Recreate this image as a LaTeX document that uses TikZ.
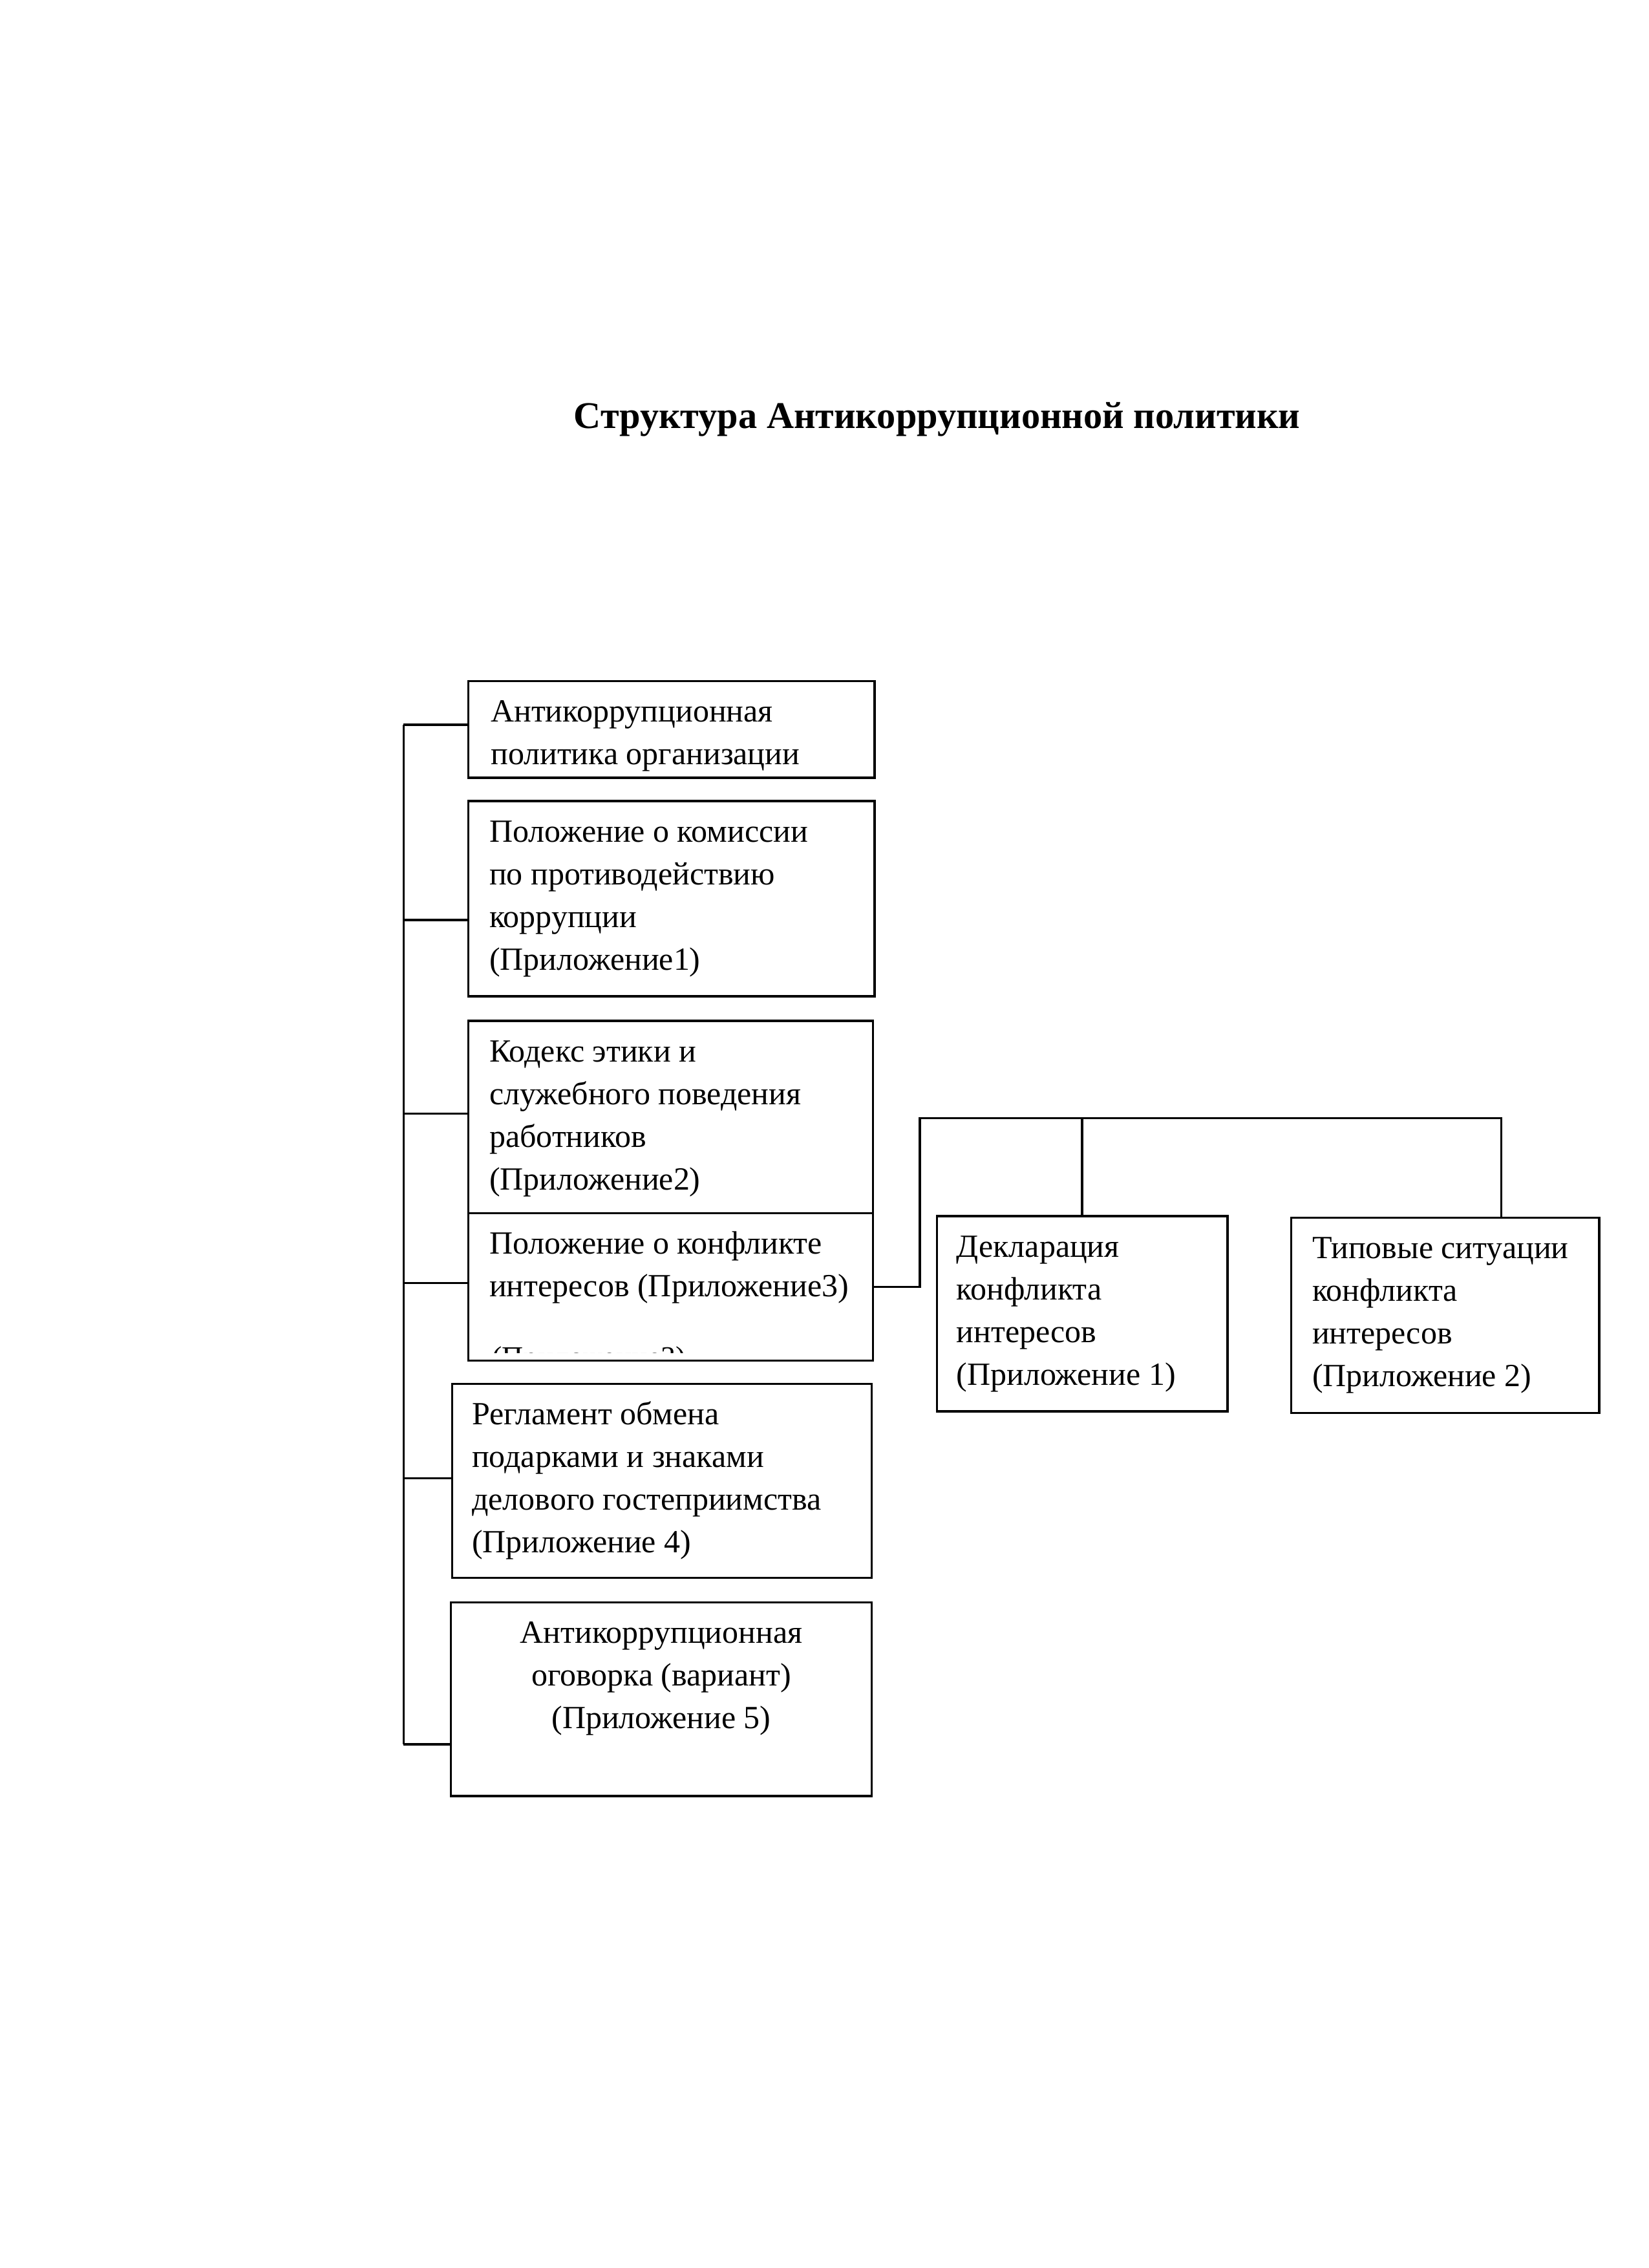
\documentclass[tikz,border=0pt]{standalone}
\usepackage{fontspec}
\setmainfont{Liberation Serif}
\usetikzlibrary{positioning,calc}

\newcommand{\px}{0.537pt}
\newcommand{\docfont}{\fontsize{12}{15.85}\selectfont}
\tikzset{
  docbox/.style={draw, line width=0.8pt, rectangle, anchor=north west, inner sep=0pt},
  doctext/.style={anchor=north west, inner sep=0pt, align=left, font=\docfont},
  link/.style={line width=0.8pt}
}

\begin{document}
\begin{tikzpicture}[x=0.537pt, y=-0.537pt]
      \useasboundingbox (0,0) rectangle (1140,1568);

      % Title
      \node[font=\bfseries\fontsize{14}{17}\selectfont] (title) at (648,290) {Структура Антикоррупционной политики};

      % Left column of documents
      \node[docbox, minimum width=281*\px, minimum height=67*\px] (b1) at (323,470) {};
      \node[doctext] (t1) at ($(b1.north west)+(16,8)$) {\strut Антикоррупционная\\политика организации};

      \node[docbox, minimum width=281*\px, minimum height=135*\px] (b2) at (323,553) {};
      \node[doctext] (t2) at ($(b2.north west)+(15,8)$) {\strut Положение о комиссии\\по противодействию\\коррупции\\(Приложение1)};

      \node[docbox, minimum width=280*\px, minimum height=133*\px] (b3) at (323,705) {};
      \node[doctext] (t3) at ($(b3.north west)+(15,8)$) {\strut Кодекс этики и\\служебного поведения\\работников\\(Приложение2)};

      \node[docbox, minimum width=280*\px, minimum height=102*\px] (b4) at (323,838) {};
      \node[doctext] (t4) at ($(b4.north west)+(15,8)$) {\strut Положение о конфликте\\интересов (Приложение3)};
      \begin{scope}
        \clip (b4.north west) rectangle ($(b4.south east)+(0,-6)$);
        \node[doctext, font=\fontsize{11}{13}\selectfont] (t4x) at ($(b4.north west)+(17,92.5)$) {(Приложение3)};
      \end{scope}

      \node[docbox, minimum width=290*\px, minimum height=134*\px] (b5) at (312,956) {};
      \node[doctext] (t5) at ($(b5.north west)+(14,8)$) {\strut Регламент обмена\\подарками и знаками\\делового гостеприимства\\(Приложение 4)};

      \node[docbox, minimum width=291*\px, minimum height=134*\px] (b6) at (311,1107) {};
      \node[doctext, anchor=north, align=center] (t6) at ($(b6.north)+(0,8)$) {\strut Антикоррупционная\\оговорка (вариант)\\(Приложение 5)};

      % Right branch
      \node[docbox, minimum width=201*\px, minimum height=135*\px] (b7) at (647,840) {};
      \node[doctext] (t7) at ($(b7.north west)+(14,8)$) {\strut Декларация\\конфликта\\интересов\\(Приложение 1)};

      \node[docbox, minimum width=213*\px, minimum height=135*\px] (b8) at (892,841) {};
      \node[doctext] (t8) at ($(b8.north west)+(15,8)$) {\strut Типовые ситуации\\конфликта\\интересов\\(Приложение 2)};

      % Spine and connectors
      \foreach \i/\y in {1/501, 2/636, 3/770, 4/887, 5/1022, 6/1206} {
        \coordinate (s\i) at (279,\y);
        \draw[link] (s\i) -- (s\i -| b\i.west);
      }
      \draw[link] (s1) -- (s6);

      \coordinate (busL) at (636,773);
      \coordinate (busR) at (1038,773);
      \draw[link] (b4.east) -| (busL) -- (busR) -- (busR |- b8.north);
      \draw[link] (b7.north) -- (b7.north |- busL);
\end{tikzpicture}
\end{document}
